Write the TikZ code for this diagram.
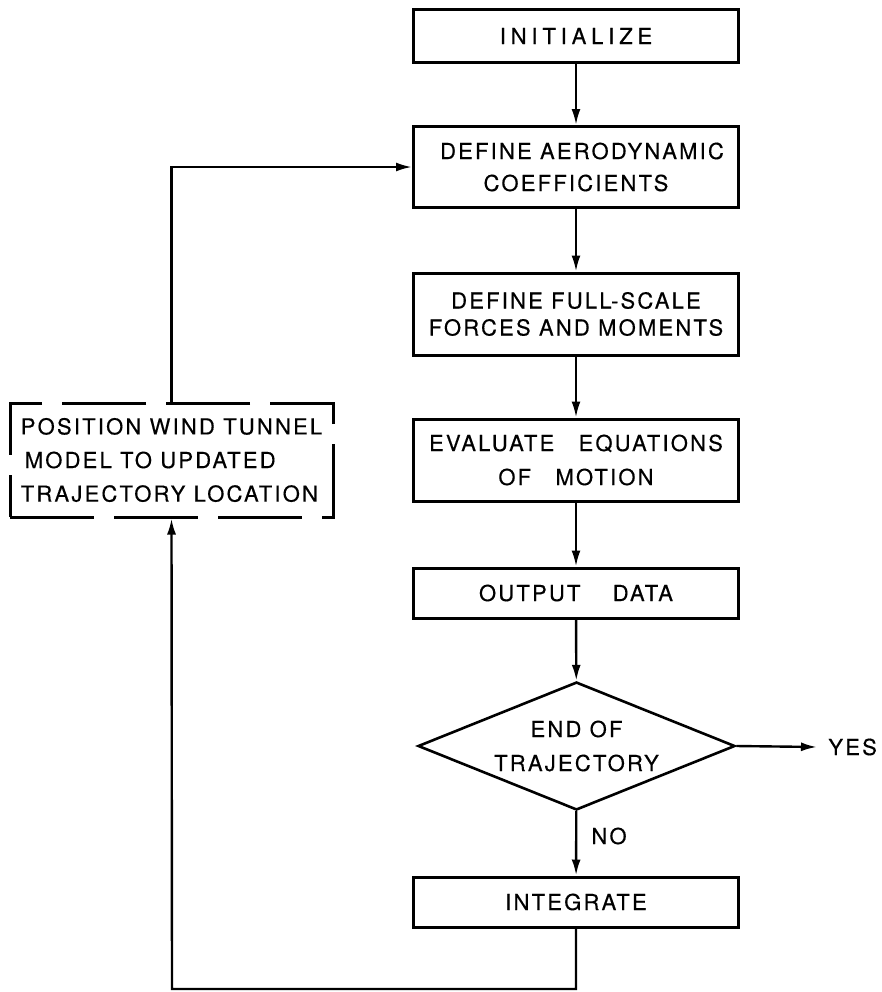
\documentclass[tikz,border=0pt]{standalone}
\usepackage{fontspec}
\setmainfont{TeX Gyre Heros}
\newfontfamily\lettering[LetterSpace=10,FakeBold=0.4]{TeX Gyre Heros}
\newfontfamily\widelettering[LetterSpace=22,FakeBold=0.4]{TeX Gyre Heros}
\usetikzlibrary{shapes.geometric,arrows.meta}

\begin{document}
\begin{tikzpicture}[x=0.5pt, y=-0.5pt,
        box/.style={draw, line width=1.5pt, minimum width=162.5pt, align=center,
            font={\lettering\fontsize{11}{16}\selectfont}},
        decision/.style={draw, diamond, aspect=2.5, inner sep=0pt, line width=1.3pt,
            minimum width=158.5pt, minimum height=64pt, align=center,
            font={\lettering\fontsize{11}{17}\selectfont}},
        flow/.style={line width=1.2pt, -{Latex[length=8pt,width=4.5pt]}},
        tag/.style={font={\lettering\fontsize{11}{16}\selectfont}}]
    \useasboundingbox (0,0) rectangle (882,992);

    % main column
    \node[box, minimum height=26.5pt, font={\widelettering\fontsize{11}{16}\selectfont}] (init) at (576,36) {INITIALIZE};
    \node[box, minimum height=40.5pt] (aero) at (576,167) {\hspace{6pt}DEFINE AERODYNAMIC\\COEFFICIENTS};
    \node[box, minimum height=41pt, font={\lettering\fontsize{11}{13.5}\selectfont}] (forces) at (576,314) {DEFINE FULL-SCALE\\FORCES AND MOMENTS};
    \node[box, minimum height=41pt, font={\lettering\fontsize{11}{17}\selectfont}] (motion) at (576,460) {EVALUATE\hspace{8pt} EQUATIONS\\OF\hspace{8pt} MOTION};
    \node[box, minimum height=25pt] (output) at (576,593) {OUTPUT\hspace{12pt} DATA};
    \node[decision] (endtraj) at (576.5,746) {END OF\\TRAJECTORY};
    \node[box, minimum height=25pt] (integ) at (576,902) {INTEGRATE};

    % wind tunnel step, off the computer
    \node[box, minimum width=161.5pt, minimum height=57pt, align=left, inner sep=3pt,
        dash pattern=on 42pt off 10pt, dash phase=0pt, font={\lettering\fontsize{11}{16.8}\selectfont}] (tunnel) at (171.5,460) {POSITION WIND TUNNEL\\\hspace{2pt}MODEL TO UPDATED\\TRAJECTORY LOCATION};

    \node[tag, anchor=west, inner sep=5.5pt] (yes) at (817,747) {YES};
    \node[tag] (no) at (609,836) {NO};
    \coordinate (loopbot) at (172,989);

    \draw[flow] (init) -- (aero);
    \draw[flow] (aero) -- (forces);
    \draw[flow] (forces) -- (motion);
    \draw[flow] (motion) -- (output);
    \draw[flow] (output) -- (endtraj);
    \draw[flow] (endtraj) -- (integ);
    \draw[flow] (endtraj.east) -- (yes.west);
    \draw[flow] (integ.south) |- (loopbot) -- (tunnel.south);
    \draw[flow] (tunnel.north) |- (aero.west);
\end{tikzpicture}
\end{document}
